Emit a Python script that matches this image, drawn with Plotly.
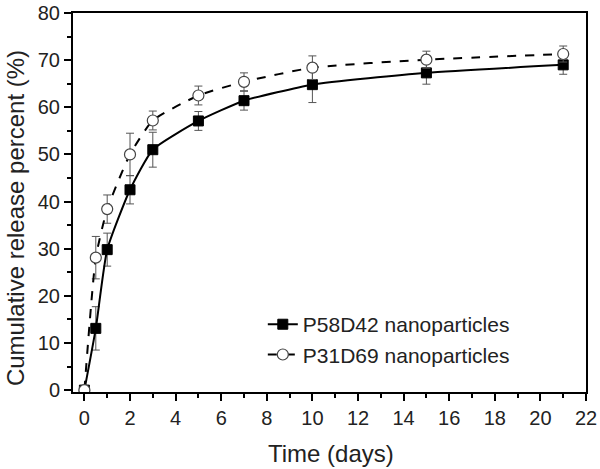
import plotly.graph_objects as go

time_days = [0, 0.5, 1, 2, 3, 5, 7, 10, 15, 21]
p58_values = [0, 13.1, 29.8, 42.5, 51.0, 57.1, 61.4, 64.8, 67.3, 69.0]
p58_errors = [0, 4.6, 3.5, 3.0, 3.7, 2.0, 2.0, 3.8, 2.4, 2.0]
p31_values = [0, 28.1, 38.4, 50.0, 57.2, 62.5, 65.4, 68.4, 70.1, 71.3]
p31_errors = [0, 4.5, 3.0, 4.5, 2.0, 2.0, 1.9, 2.5, 1.8, 1.7]
x_ticks = list(range(0, 23, 2))
y_ticks = list(range(0, 81, 10))
x_title = "Time (days)"
y_title = "Cumulative release percent (%)"

font_family = "Liberation Sans, Arial, sans-serif"
txt = "#222222"

fig = go.Figure()
fig.add_trace(go.Scatter(
    x=time_days, y=p58_values, name="P58D42 nanoparticles",
    mode="lines+markers", line=dict(color="black", width=2, shape="spline", smoothing=0.5),
    marker=dict(symbol="square", size=10, color="black", line=dict(color="black", width=1)),
    error_y=dict(type="data", array=p58_errors, color="#555555", thickness=1, width=4),
))
fig.add_trace(go.Scatter(
    x=time_days, y=p31_values, name="P31D69 nanoparticles",
    mode="lines+markers", line=dict(color="black", width=2, dash="dash", shape="spline", smoothing=0.5),
    marker=dict(symbol="circle", size=11, color="white", line=dict(color="#444444", width=1.2)),
    error_y=dict(type="data", array=p31_errors, color="#555555", thickness=1, width=4),
))

axis_common = dict(
    showline=True, linecolor="black", linewidth=2, mirror=True,
    ticks="outside", ticklen=7, tickwidth=1.5, tickcolor="black",
    showgrid=False, zeroline=False, automargin=False,
    tickfont=dict(size=20, color=txt, family=font_family),
    minor=dict(ticks="outside", ticklen=4, tickwidth=1.5, tickcolor="black"),
)
fig.update_xaxes(range=[-0.5, 22], tickvals=x_ticks, **axis_common)
fig.update_yaxes(range=[-0.4, 80], tickvals=y_ticks, **axis_common)

title_font = dict(size=24, color=txt, family=font_family)
fig.add_annotation(text=x_title, xref="paper", yref="paper", x=0.503, y=-0.161,
                   xanchor="center", yanchor="middle", showarrow=False, font=title_font)
fig.add_annotation(text=y_title, xref="paper", yref="paper", x=-0.113, y=0.459,
                   xanchor="center", yanchor="middle", showarrow=False, textangle=-90, font=title_font)

fig.update_layout(
    width=600, height=469,
    margin=dict(l=73, r=14, t=13, b=77),
    plot_bgcolor="white", paper_bgcolor="white",
    font=dict(family=font_family, color=txt),
    legend=dict(x=0.37, y=0.232, xanchor="left", yanchor="top", bgcolor="rgba(0,0,0,0)",
                font=dict(size=21, family=font_family, color=txt), tracegroupgap=0, itemwidth=30),
)
fig.write_html("out.html",
               config={"displayModeBar": False},
               post_script="document.body.style.margin='0';document.body.style.overflow='hidden';")
